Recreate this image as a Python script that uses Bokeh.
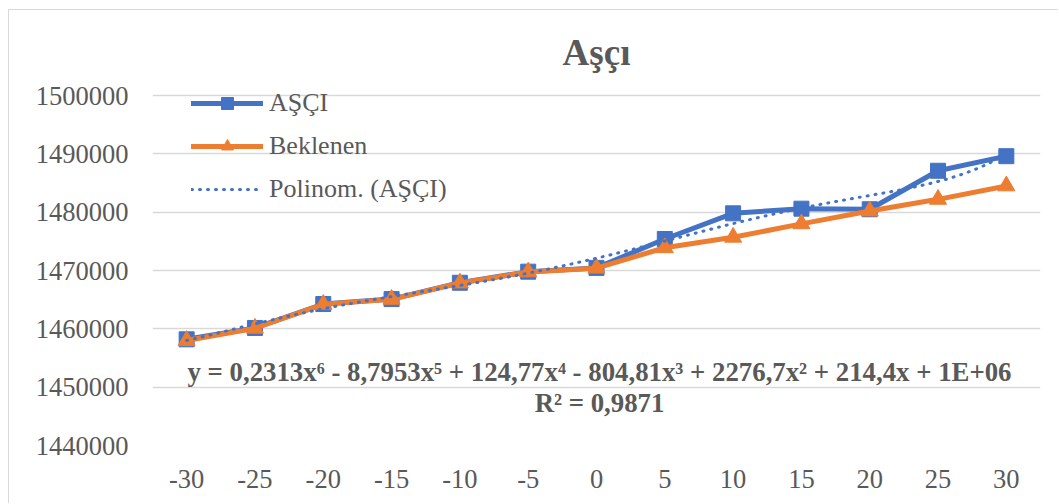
import numpy as np
from bokeh.plotting import figure
from bokeh.models import Range1d, FixedTicker, Label, Legend, LegendItem, PrintfTickFormatter
from bokeh.embed import file_html
from bokeh.resources import INLINE

# ---- data ----
x_labels = ["-30", "-25", "-20", "-15", "-10", "-5", "0", "5", "10", "15", "20", "25", "30"]
x_vals = [-30, -25, -20, -15, -10, -5, 0, 5, 10, 15, 20, 25, 30]
asci = [1458200, 1460150, 1464250, 1465100, 1467900, 1469800, 1470450,
        1475400, 1479800, 1480600, 1480500, 1487100, 1489600]
beklenen = [1458000, 1460100, 1464200, 1465050, 1467850, 1469750, 1470400,
            1473900, 1475700, 1478000, 1480200, 1482200, 1484500]
y_ticks = [1440000, 1450000, 1460000, 1470000, 1480000, 1490000, 1500000]
title_text = "Aşçı"
eq_text = "y = 0,2313x\u2076 - 8,7953x\u2075 + 124,77x\u2074 - 804,81x\u00b3 + 2276,7x\u00b2 + 214,4x + 1E+06"
r2_text = "R\u00b2 = 0,9871"

# polynomial (order 6) trendline of AŞÇI, fitted on category index like the spreadsheet
idx = np.arange(1, len(asci) + 1)
coef = np.polyfit(idx, np.array(asci, dtype=float), 6)
t_dense = np.linspace(1, len(asci), 400)
trend_x = x_vals[0] + (t_dense - 1) * (x_vals[1] - x_vals[0])
trend_y = np.polyval(coef, t_dense)

BLUE = "#4472C4"
ORANGE = "#ED7D31"
TXT = "#595959"
FONT = "Liberation Serif"

p = figure(width=1050, height=494,
           x_range=Range1d(-32.5, 32.5), y_range=Range1d(1440000, 1503430),
           min_border_left=143, min_border_right=19, min_border_top=65, min_border_bottom=59,
           toolbar_location=None, output_backend="svg")
p.margin = (9, 0, 0, 8)
p.styles = {"border-top": "1px solid #d9d9d9", "border-left": "1px solid #d9d9d9"}

p.title.text = title_text
p.title.align = "center"
p.title.vertical_align = "bottom"
p.title.text_font = FONT
p.title.text_font_size = "37px"
p.title.text_font_style = "bold"
p.title.text_color = TXT
p.title.standoff = 6

p.outline_line_color = None
p.background_fill_color = "white"
p.border_fill_color = "white"

# axes
p.xaxis.ticker = FixedTicker(ticks=x_vals)
p.xaxis.major_label_overrides = {v: s for v, s in zip(x_vals, x_labels)}
p.yaxis.ticker = FixedTicker(ticks=y_ticks)
p.yaxis.formatter = PrintfTickFormatter(format="%d")
for ax in (p.xaxis, p.yaxis):
    ax.axis_line_color = None
    ax.major_tick_line_color = None
    ax.minor_tick_line_color = None
    ax.major_tick_out = 0
    ax.major_tick_in = 0
    ax.major_label_text_font = FONT
    ax.major_label_text_font_size = "26.5px"
    ax.major_label_text_color = TXT
p.yaxis.major_label_standoff = 24
p.xaxis.major_label_standoff = 24

p.xgrid.grid_line_color = None
p.ygrid.ticker = FixedTicker(ticks=y_ticks)
p.ygrid.grid_line_color = "#d9d9d9"
p.ygrid.grid_line_width = 1.5

# series
l1 = p.line(x_vals, asci, line_color=BLUE, line_width=5, line_join="round", line_cap="round")
s1 = p.scatter(x_vals, asci, marker="square", size=15, fill_color=BLUE, line_color=BLUE)
l2 = p.line(x_vals, beklenen, line_color=ORANGE, line_width=5, line_join="round", line_cap="round")
s2 = p.scatter(x_vals, beklenen, marker="triangle", size=17, fill_color=ORANGE, line_color=ORANGE)
lt = p.line(trend_x, trend_y, line_color=BLUE, line_width=3, line_dash="1 7", line_cap="round")

p.add_layout(Label(x=0.22, y=1452600, text=eq_text, text_align="center", text_baseline="middle",
                   text_font=FONT, text_font_size="26.8px", text_font_style="bold", text_color=TXT))
p.add_layout(Label(x=0.22, y=1447300, text=r2_text, text_align="center", text_baseline="middle",
                   text_font=FONT, text_font_size="26.8px", text_font_style="bold", text_color=TXT))

legend = Legend(items=[
    LegendItem(label="AŞÇI", renderers=[l1, s1]),
    LegendItem(label="Beklenen", renderers=[l2, s2]),
    LegendItem(label="Polinom. (AŞÇI)", renderers=[lt]),
], location=(39, 241))
legend.background_fill_alpha = 0
legend.border_line_color = None
legend.padding = 0
legend.margin = 0
legend.spacing = 13
legend.glyph_width = 72
legend.glyph_height = 30
legend.label_height = 30
legend.label_standoff = 6
legend.label_text_font = FONT
legend.label_text_font_size = "26px"
legend.label_text_color = TXT
p.add_layout(legend, "center")

open("out.html", "w").write(file_html(p, INLINE))
